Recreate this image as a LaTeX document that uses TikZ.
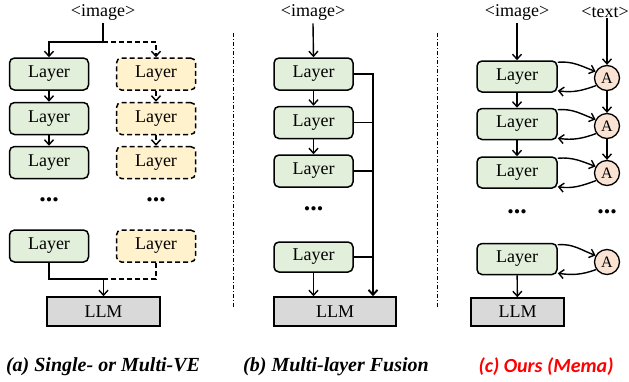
\documentclass[tikz,border=0pt]{standalone}
\usepackage{fontspec}
\setmainfont{Liberation Serif}
\newfontfamily\calib{Carlito}
\usetikzlibrary{arrows.meta,calc}
\definecolor{lgreen}{HTML}{E2EFDA}
\definecolor{lyellow}{HTML}{FFF2CC}
\definecolor{lgray}{HTML}{D9D9D9}
\definecolor{lpeach}{HTML}{FBE3D4}
\begin{document}
\begin{tikzpicture}[x=1pt,y=-1pt,
  font=\fontsize{18}{20}\selectfont,
  >={Straight Barb[length=5pt,width=9pt]},
  ln/.style={line width=1.4pt},
  arr/.style={ln,->},
  layerbox/.style={draw,line width=1.5pt,rounded corners=5pt,fill=lgreen,minimum width=79pt,minimum height=32pt,inner sep=0pt},
  ybox/.style={layerbox,fill=lyellow,dashed,dash pattern=on 5pt off 3pt},
  llmbox/.style={draw,line width=1.5pt,fill=lgray,minimum height=29pt,inner sep=0pt},
  abox/.style={circle,draw,line width=1.3pt,fill=lpeach,minimum size=25pt,inner sep=0pt,font=\fontsize{16}{18}\selectfont},
  dotsnode/.style={font=\fontsize{26}{26}\selectfont\bfseries},
  sep/.style={line width=0.9pt,dash pattern=on 4pt off 2pt on 1pt off 2pt},
  caption/.style={font=\fontsize{20}{22}\selectfont\bfseries\itshape}
]
\useasboundingbox (0,0) rectangle (629,381);

% ---------- panel (a)
\node (imga) at (103,12) {<image>};
\node[layerbox] (a1) at (49,74) {Layer};
\node[layerbox] (a2) at (49,118.5) {Layer};
\node[layerbox] (a3) at (49,162.5) {Layer};
\node[dotsnode] (ad1) at (49,200) {...};
\node[layerbox] (a4) at (49,246) {Layer};
\node[ybox] (b1) at (156,74) {Layer};
\node[ybox] (b2) at (156,118.5) {Layer};
\node[ybox] (b3) at (156,162.5) {Layer};
\node[dotsnode] (ad2) at (156,200) {...};
\node[ybox] (b4) at (156,246) {Layer};
\node[llmbox,minimum width=113pt] (llma) at (103.5,311.5) {LLM};
\coordinate (ja) at (103,42);
\coordinate (jb) at (103.5,279);
\draw[ln] (imga.south) -- (ja);
\draw[arr] (ja) -| (a1.north);
\draw[arr,dashed,dash pattern=on 5pt off 3pt] (ja) -| (b1.north);
\draw[arr] (a1) -- (a2);
\draw[arr] (a2) -- (a3);
\draw[arr,dashed,dash pattern=on 5pt off 3pt] (b1) -- (b2);
\draw[arr,dashed,dash pattern=on 5pt off 3pt] (b2) -- (b3);
\draw[ln] (a4.south) |- (jb);
\draw[ln,dashed,dash pattern=on 5pt off 3pt] (b4.south) |- (jb);
\draw[arr] (jb) -- (llma.north);
\node[caption] (capa) at (103,367) {(a) Single- or Multi-VE};

% separators
\coordinate (s1t) at (233,33);
\coordinate (s1b) at (233,308);
\coordinate (s2t) at (437,33);
\coordinate (s2b) at (437,308);
\draw[sep] (s1t) -- (s1b);
\draw[sep] (s2t) -- (s2b);

% ---------- panel (b)
\node (imgb) at (313,12) {<image>};
\node[layerbox] (c1) at (313.5,74) {Layer};
\node[layerbox] (c2) at (313.5,122.5) {Layer};
\node[layerbox] (c3) at (313.5,171) {Layer};
\node[dotsnode] (cd) at (313.5,209) {...};
\node[layerbox,minimum height=30pt] (c4) at (313.5,257) {Layer};
\node[llmbox,minimum width=122pt] (llmb) at (335,311.5) {LLM};
\coordinate (bt) at (373,74);
\draw[arr] (imgb.south) -- (c1.north);
\draw[arr] (c1) -- (c2);
\draw[arr] (c2) -- (c3);
\draw[ln,line width=1.9pt,->] (c1.east) -- (bt) -- (bt |- llmb.north);
\draw[ln] (c2.east) -- (c2 -| bt);
\draw[ln] (c3.east) -- (c3 -| bt);
\draw[ln] (c4.east) -- (c4 -| bt);
\draw[arr] (c4.south) -- (c4 |- llmb.north);
\node[caption] (capb) at (336,367) {(b) Multi-layer Fusion};

% ---------- panel (c)
\node (imgc) at (517,12) {<image>};
\node[inner sep=1pt] (txtc) at (605,12) {<text>};
\node[layerbox,minimum width=80pt,minimum height=31pt] (d1) at (517,76.5) {Layer};
\node[layerbox,minimum width=80pt,minimum height=31pt] (d2) at (517,124) {Layer};
\node[layerbox,minimum width=80pt,minimum height=31pt] (d3) at (517,172.5) {Layer};
\node[dotsnode] (dd1) at (517,212) {...};
\node[layerbox,minimum width=80pt,minimum height=31pt] (d4) at (517,259) {Layer};
\node[abox] (A1) at (607,78) {A};
\node[abox] (A2) at (607,126) {A};
\node[abox] (A3) at (607,173) {A};
\node[dotsnode] (dd2) at (607,212) {...};
\node[abox] (A4) at (607,262) {A};
\node[llmbox,minimum width=93pt,minimum height=28pt] (llmc) at (517.5,312) {LLM};
\draw[arr] (imgc.south) -- (d1.north);
\draw[arr] (d1) -- (d2);
\draw[arr] (d2) -- (d3);
\draw[arr] (d4) -- (llmc);
\draw[arr] (txtc.south -| A1.north) -- (A1.north);
\draw[arr] (A1) -- (A2);
\draw[arr] (A2) -- (A3);
\foreach \d/\a in {d1/A1,d2/A2,d3/A3,d4/A4}{
  \draw[arr] ([yshift=-2pt]\d.north east) to[out=5,in=160] (\a.150);
  \draw[arr] (\a.215) to[out=-160,in=-8] ([yshift=2pt]\d.south east);
}
\node[caption,font=\fontsize{20}{22}\selectfont\calib\bfseries\itshape,text=red] (capc) at (546,367) {(c) Ours (Mema)};
\end{tikzpicture}
\end{document}
